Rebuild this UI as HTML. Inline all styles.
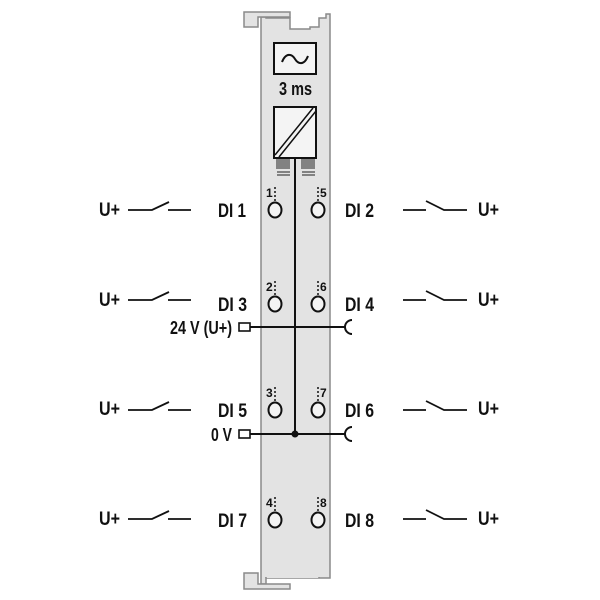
<!DOCTYPE html>
<html><head><meta charset="utf-8"><style>
html,body{margin:0;padding:0;background:#fff}
svg{display:block}
text{font-family:"Liberation Sans",sans-serif;font-weight:bold;fill:#111}
</style></head><body>
<svg width="600" height="600" viewBox="0 0 600 600" xmlns="http://www.w3.org/2000/svg">
<!-- module body -->
<path d="M261,17 L261,584 L266,584 L266,578 L330,578 L330,14 L326,14 L326,18 L319,18 L319,27 L310,27 L310,29 L290,29 L290,18 L266,18 L266,17 Z" fill="#e3e3e3" stroke="#8a8a8a" stroke-width="1.5"/>
<!-- top hook -->
<path d="M244,12 L290,12 L290,17 L258,17 L258,27 L244,27 Z" fill="#e3e3e3" stroke="#8a8a8a" stroke-width="1.5"/>
<!-- bottom hook -->
<path d="M244,573 L258,573 L258,584 L290,584 L290,589 L244,589 Z" fill="#e3e3e3" stroke="#8a8a8a" stroke-width="1.5"/>
<path d="M266,578 L266,570 L290,570 L290,573 L319,573 L319,578" fill="#e3e3e3" stroke="#8a8a8a" stroke-width="1.5"/>
<rect x="262" y="560" width="67" height="17" fill="#e3e3e3"/>
<!-- filter box -->
<rect x="274" y="43" width="42" height="31" fill="#f4f4f4" stroke="#111" stroke-width="2"/>
<path d="M282,62 C286,52 292,54 295,59 C298,64 304,66 308,56" fill="none" stroke="#111" stroke-width="2"/>
<text x="279" y="95" font-size="18" textLength="33" lengthAdjust="spacingAndGlyphs">3 ms</text>
<!-- converter box -->
<rect x="274" y="107" width="42" height="51" fill="#f4f4f4" stroke="#111" stroke-width="2"/>
<path d="M275,155 L313,108 M279,157 L316,111" stroke="#111" stroke-width="1.5"/>
<!-- ribbons -->
<g stroke="#222" stroke-width="1">
<path d="M277,159v10M279,159v10M281,159v10M283,159v10M285,159v10M287,159v10M289,159v10"/>
<path d="M302,159v10M304,159v10M306,159v10M308,159v10M310,159v10M312,159v10M314,159v10"/>
<path d="M277,172h13M277,175h13M302,172h13M302,175h13"/>
</g>
<!-- center line -->
<line x1="295" y1="158" x2="295" y2="435" stroke="#111" stroke-width="2"/>
<!-- power rails -->
<rect x="239" y="323" width="11" height="8" fill="#fff" stroke="#111" stroke-width="1.6"/>
<line x1="250" y1="327" x2="345" y2="327" stroke="#111" stroke-width="2"/>
<path d="M352,320 A7,7 0 0 0 352,334" fill="none" stroke="#111" stroke-width="2"/>
<rect x="239" y="430" width="11" height="8" fill="#fff" stroke="#111" stroke-width="1.6"/>
<line x1="250" y1="434" x2="345" y2="434" stroke="#111" stroke-width="2"/>
<path d="M352,427 A7,7 0 0 0 352,441" fill="none" stroke="#111" stroke-width="2"/>
<circle cx="295" cy="434" r="3.5" fill="#111"/>
<text x="170" y="334" font-size="18" textLength="62" lengthAdjust="spacingAndGlyphs">24 V (U+)</text>
<text x="211" y="441" font-size="18" textLength="21" lengthAdjust="spacingAndGlyphs">0 V</text>

<g stroke="#111" stroke-width="2">
<ellipse cx="275" cy="210" rx="6.5" ry="7.5" fill="#f4f4f4"/><ellipse cx="318" cy="210" rx="6.5" ry="7.5" fill="#f4f4f4"/>
<ellipse cx="275" cy="304" rx="6.5" ry="7.5" fill="#f4f4f4"/><ellipse cx="318" cy="304" rx="6.5" ry="7.5" fill="#f4f4f4"/>
<ellipse cx="275" cy="410" rx="6.5" ry="7.5" fill="#f4f4f4"/><ellipse cx="318" cy="410" rx="6.5" ry="7.5" fill="#f4f4f4"/>
<ellipse cx="275" cy="520" rx="6.5" ry="7.5" fill="#f4f4f4"/><ellipse cx="318" cy="520" rx="6.5" ry="7.5" fill="#f4f4f4"/>
</g>
<g stroke="#111" stroke-width="1.5" stroke-dasharray="2,2">
<path d="M275,187v15M318,187v15M275,281v15M318,281v15M275,387v15M318,387v15M275,497v15M318,497v15"/>
</g>
<g font-size="12">
<text x="266" y="197">1</text><text x="320" y="197">5</text>
<text x="266" y="291">2</text><text x="320" y="291">6</text>
<text x="266" y="397">3</text><text x="320" y="397">7</text>
<text x="266" y="507">4</text><text x="320" y="507">8</text>
</g>
<g font-size="19">
<text x="218" y="217" textLength="28" lengthAdjust="spacingAndGlyphs">DI 1</text><text x="345" y="217" textLength="29" lengthAdjust="spacingAndGlyphs">DI 2</text>
<text x="218" y="311" textLength="29" lengthAdjust="spacingAndGlyphs">DI 3</text><text x="345" y="311" textLength="29" lengthAdjust="spacingAndGlyphs">DI 4</text>
<text x="218" y="417" textLength="29" lengthAdjust="spacingAndGlyphs">DI 5</text><text x="345" y="417" textLength="29" lengthAdjust="spacingAndGlyphs">DI 6</text>
<text x="218" y="527" textLength="29" lengthAdjust="spacingAndGlyphs">DI 7</text><text x="345" y="527" textLength="29" lengthAdjust="spacingAndGlyphs">DI 8</text>
<text x="99" y="216" textLength="21" lengthAdjust="spacingAndGlyphs">U+</text><text x="478" y="216" textLength="21" lengthAdjust="spacingAndGlyphs">U+</text>
<text x="99" y="306" textLength="21" lengthAdjust="spacingAndGlyphs">U+</text><text x="478" y="306" textLength="21" lengthAdjust="spacingAndGlyphs">U+</text>
<text x="99" y="415" textLength="21" lengthAdjust="spacingAndGlyphs">U+</text><text x="478" y="415" textLength="21" lengthAdjust="spacingAndGlyphs">U+</text>
<text x="99" y="525" textLength="21" lengthAdjust="spacingAndGlyphs">U+</text><text x="478" y="525" textLength="21" lengthAdjust="spacingAndGlyphs">U+</text>
</g>
<g stroke="#111" stroke-width="1.8" fill="none">
<path d="M128,210h24l17,-8M168,210h23"/>
<path d="M403,210h23M426,201l18,9h23"/>
<path d="M128,300h24l17,-8M168,300h23"/>
<path d="M403,300h23M426,291l18,9h23"/>
<path d="M128,410h24l17,-8M168,410h23"/>
<path d="M403,410h23M426,401l18,9h23"/>
<path d="M128,519h24l17,-8M168,519h23"/>
<path d="M403,519h23M426,510l18,9h23"/>
</g>
</svg>
</body></html>
